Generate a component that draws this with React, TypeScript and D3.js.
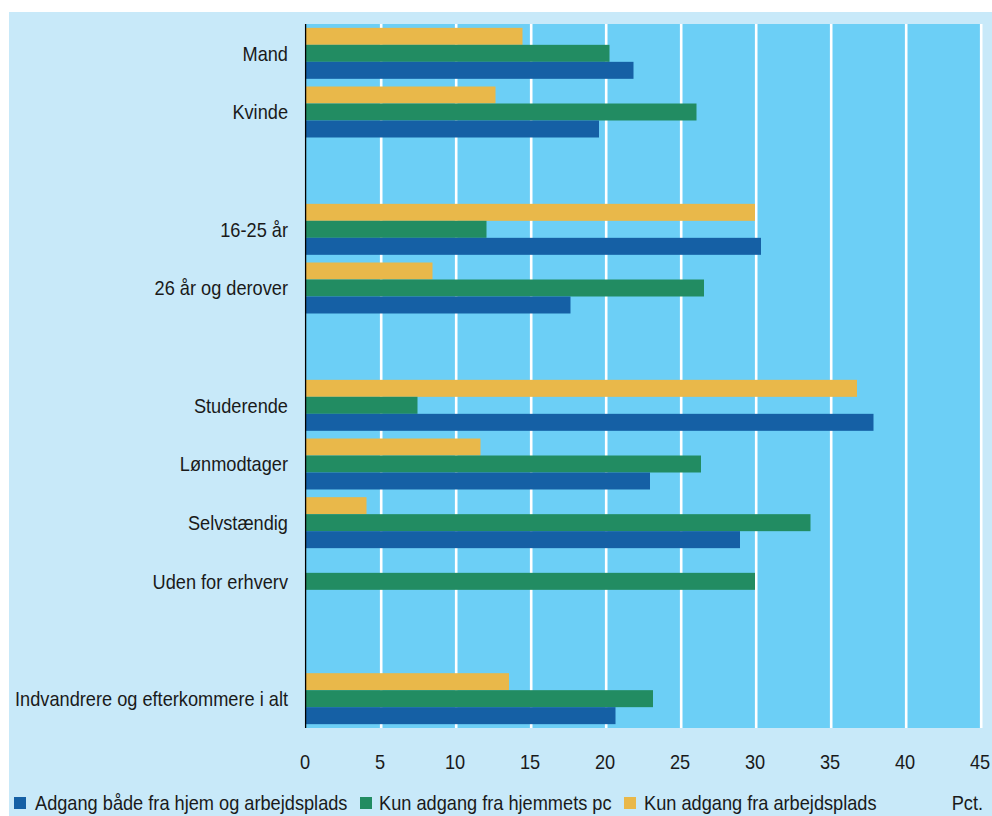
import React from "react";
import * as d3 from "d3";

const categories: (string | null)[] = [
  "Mand",
  "Kvinde",
  null,
  "16-25 år",
  "26 år og derover",
  null,
  "Studerende",
  "Lønmodtager",
  "Selvstændig",
  "Uden for erhverv",
  null,
  "Indvandrere og efterkommere i alt",
];

const seriesNames = [
  "Adgang både fra hjem og arbejdsplads",
  "Kun adgang fra hjemmets pc",
  "Kun adgang fra arbejdsplads",
];

// values per category (null rows are spacers)
const bothValues: (number | null)[] = [21.9, 19.6, null, 30.4, 17.7, null, 37.9, 23.0, 29.0, null, null, 20.7];
const homeValues: (number | null)[] = [20.3, 26.1, null, 12.1, 26.6, null, 7.5, 26.4, 33.7, 30.0, null, 23.2];
const workValues: (number | null)[] = [14.5, 12.7, null, 30.0, 8.5, null, 36.8, 11.7, 4.1, null, null, 13.6];

const xTicks = [0, 5, 10, 15, 20, 25, 30, 35, 40, 45];

const colors = ["#1560a5", "#228c62", "#e9b84a"];
const FONT = "'Liberation Sans', Arial, sans-serif";
const SX = 0.91; // horizontal condensing of the text

function T({
  x,
  y,
  anchor = "start",
  children,
}: {
  x: number;
  y: number;
  anchor?: "start" | "middle" | "end";
  children: React.ReactNode;
}) {
  return (
    <text
      transform={`translate(${x},${y}) scale(${SX},1)`}
      dy="0.36em"
      textAnchor={anchor}
      fontSize={20}
      fill="#1a1a1a"
    >
      {children}
    </text>
  );
}

export default function App() {
  const W = 992;
  const H = 816;
  const left = 305;
  const right = 980;
  const top = 24;
  const bottom = 728;

  const x = d3.scaleLinear().domain([0, 45]).range([left, right]);
  const y = d3
    .scaleBand<number>()
    .domain(categories.map((_, i) => i))
    .range([top, bottom])
    .paddingInner(0.131)
    .paddingOuter(0.0655);
  // stacking order top to bottom: work (yellow), home (green), both (blue)
  const order = [2, 1, 0];
  const sub = d3.scaleBand<number>().domain(order).range([0, y.bandwidth()]);
  const seriesValues = [bothValues, homeValues, workValues];

  const legendItems = [
    { sx: 14, tx: 35 },
    { sx: 360, tx: 379 },
    { sx: 624, tx: 644 },
  ];

  return (
    <svg
      width={W}
      height={H}
      style={{ position: "absolute", left: 0, top: 0, background: "#fff" }}
      fontFamily={FONT}
    >
      <rect x={9} y={12} width={W - 9} height={H - 12} fill="#c8e9f9" />
      <rect x={left} y={top} width={right - left} height={bottom - top} fill="#6ccff6" />
      {xTicks.slice(1).map((t) => (
        <line
          key={t}
          x1={x(t) + 1.2}
          x2={x(t) + 1.2}
          y1={top}
          y2={bottom}
          stroke="#fff"
          strokeWidth={2.6}
        />
      ))}
      {categories.map((c, i) =>
        c === null
          ? null
          : order.map((s) => {
              const v = seriesValues[s][i];
              if (v === null) return null;
              return (
                <rect
                  key={`${i}-${s}`}
                  x={x(0)}
                  y={(y(i) as number) + (sub(s) as number)}
                  width={x(v) - x(0)}
                  height={sub.bandwidth()}
                  fill={colors[s]}
                />
              );
            })
      )}
      <line x1={left + 0.6} x2={left + 0.6} y1={top} y2={bottom} stroke="#000" strokeWidth={1.3} />
      {categories.map((c, i) =>
        c === null ? null : (
          <T key={c} x={288} y={(y(i) as number) + y.bandwidth() / 2} anchor="end">
            {c}
          </T>
        )
      )}
      {xTicks.map((t) => (
        <T key={t} x={x(t)} y={762} anchor="middle">
          {t}
        </T>
      ))}
      {seriesNames.map((n, i) => (
        <g key={n}>
          <rect x={legendItems[i].sx} y={797} width={12} height={12} fill={colors[i]} />
          <T x={legendItems[i].tx} y={803}>
            {n}
          </T>
        </g>
      ))}
      <T x={983} y={803} anchor="end">
        Pct.
      </T>
    </svg>
  );
}
